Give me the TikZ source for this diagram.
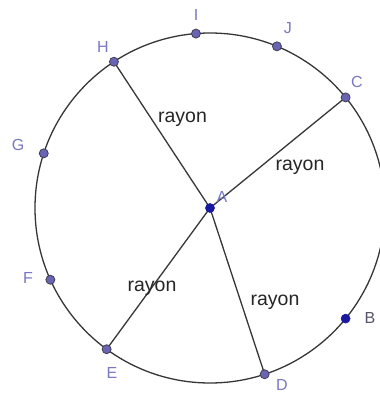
\documentclass[tikz,border=0pt]{standalone}
\usepackage{fontspec}
\setmainfont{Liberation Sans}
\definecolor{labcol}{RGB}{120,120,195}
\definecolor{ptfill}{RGB}{105,100,180}
\definecolor{ptdark}{RGB}{25,25,160}
\definecolor{linecol}{RGB}{55,55,55}
\definecolor{blab}{RGB}{85,85,105}
\tikzset{
  seg/.style={draw=linecol, line width=1.3pt},
  pt/.style={circle, inner sep=0pt, minimum size=9pt, fill=ptfill, draw=linecol!80!ptfill, line width=0.8pt},
  ptd/.style={circle, inner sep=0pt, minimum size=9pt, fill=ptdark, draw=ptdark, line width=0.6pt},
  lab/.style={text=labcol, font=\fontsize{16}{18}\selectfont, inner sep=0pt},
  ray/.style={text=black!85, font=\fontsize{19.5}{22}\selectfont, inner sep=0pt, anchor=base}
}
\begin{document}
\begin{tikzpicture}[x=1pt,y=1pt]
\useasboundingbox (-210,-186) rectangle (170,208);
\fill[white] (-210,-186) rectangle (170,208);
\clip (-210,-186) rectangle (170,208);
\coordinate (pA) at (0,0);
\coordinate (pI) at (94.6:175);
\coordinate (pJ) at (67.5:175);
\coordinate (pH) at (123.3:175);
\coordinate (pC) at (39.2:175);
\coordinate (pG) at (161.8:175);
\coordinate (pF) at (204.2:175);
\coordinate (pE) at (233.8:175);
\coordinate (pD) at (288.2:175);
\coordinate (pB) at (320.8:175);
\draw[seg] (pA) circle (175);
\draw[seg] (pA) -- (pH);
\draw[seg] (pA) -- (pC);
\draw[seg] (pA) -- (pE);
\draw[seg] (pA) -- (pD);
\node[pt] (I) at (pI) {};
\node[pt] (J) at (pJ) {};
\node[pt] (H) at (pH) {};
\node[pt] (C) at (pC) {};
\node[pt] (G) at (pG) {};
\node[pt] (F) at (pF) {};
\node[pt] (E) at (pE) {};
\node[pt] (D) at (pD) {};
\node[ptd] (B) at (pB) {};
\node[ptd] (A) at (pA) {};
\node[lab] (lI) at (-14,193) {I};
\node[lab] (lJ) at (78,180) {J};
\node[lab] (lH) at (-107,161) {H};
\node[lab] (lC) at (147,126) {C};
\node[lab] (lG) at (-192,63) {G};
\node[lab] (lF) at (-182,-70) {F};
\node[lab] (lE) at (-98,-165) {E};
\node[lab] (lD) at (72,-177) {D};
\node[lab, text=blab] (lB) at (160,-110) {B};
\node[lab] (lA) at (12,11) {A};
\node[ray] (r1) at (-27.5,85) {rayon};
\node[ray] (r2) at (90,38) {rayon};
\node[ray] (r3) at (-58,-83) {rayon};
\node[ray] (r4) at (65,-97) {rayon};
\end{tikzpicture}
\end{document}
